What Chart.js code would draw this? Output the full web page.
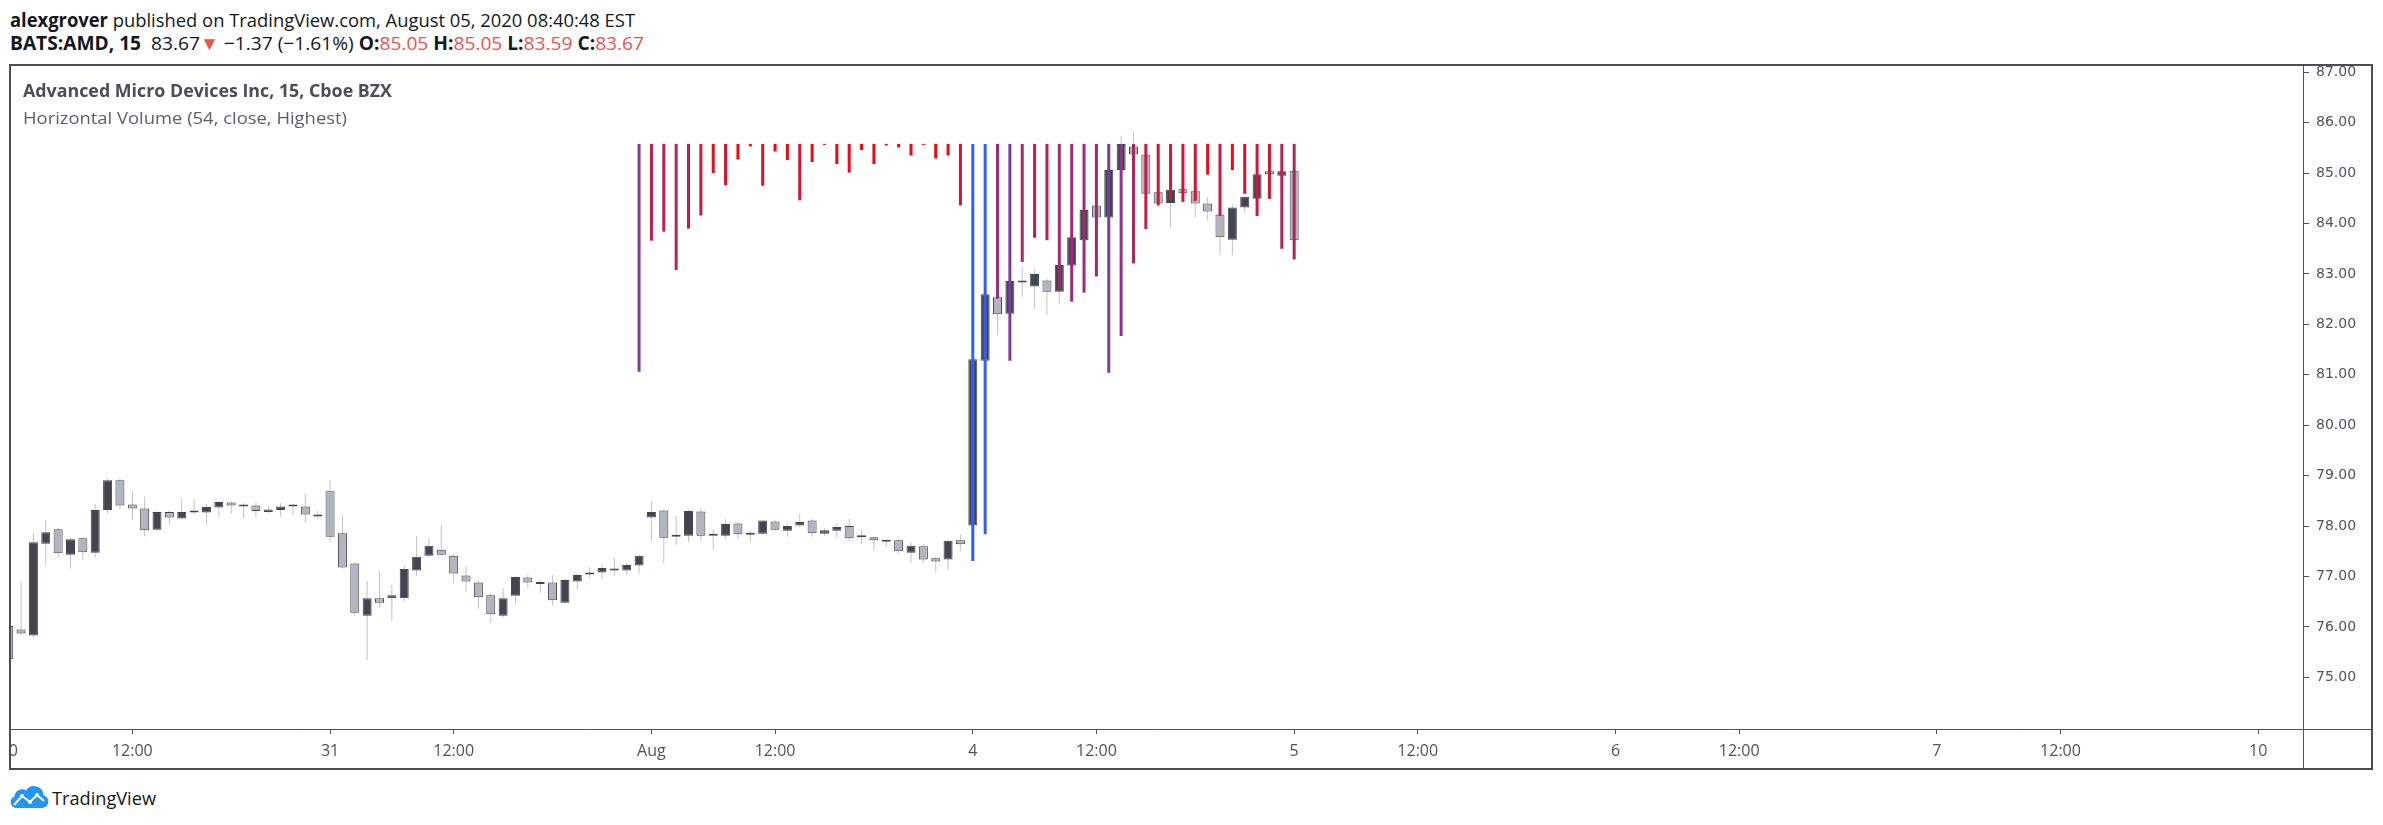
<!DOCTYPE html>
<html>
<head>
<meta charset="utf-8">
<script src="https://cdn.jsdelivr.net/npm/chart.js@4/dist/chart.umd.min.js"></script>
<style>
html, body { margin: 0; padding: 0; background: #fff; width: 2383px; height: 825px; overflow: hidden; position: relative; }
.txt { position: absolute; white-space: nowrap; transform-origin: 0 50%; z-index: 2; }
#head1, #head2 { left: 10px; font-family: "Open Sans", sans-serif; font-size: 19px; line-height: 22px; color: #131722; }
#head1 { top: 9px; }
#head2 { top: 32px; }
.r { color: #ef5350; }
#box { position: absolute; left: 9px; top: 64px; width: 2364px; height: 706px; border: 2px solid #4b4e58; box-sizing: border-box; }
#wrap { position: absolute; left: 11px; top: 66px; width: 2360px; height: 702px; }
#leg1, #leg2 { left: 23px; font-family: "Open Sans", sans-serif; font-size: 17px; line-height: 22px; }
#leg1 { top: 80px; font-weight: bold; color: #4b4d57; }
#leg2 { top: 107px; color: #5d606b; }
#logo { position: absolute; left: 9px; top: 786px; }
#brand { left: 52px; top: 786px; font-family: "Open Sans", sans-serif; font-size: 18px; line-height: 24px; color: #131722; }
</style>
</head>
<body>
<div id="head1" class="txt"><b>alexgrover</b> published on TradingView.com, August 05, 2020 08:40:48 EST</div>
<div id="head2" class="txt"><b>BATS:AMD, 15</b>&nbsp; 83.67<span class="r">▼</span> −1.37 (−1.61%) <b>O:</b><span class="r">85.05</span> <b>H:</b><span class="r">85.05</span> <b>L:</b><span class="r">83.59</span> <b>C:</b><span class="r">83.67</span></div>
<div id="box"></div>
<div id="wrap"><canvas id="chart" width="2360" height="702"></canvas></div>
<div id="leg1" class="txt">Advanced Micro Devices Inc, 15, Cboe BZX</div>
<div id="leg2" class="txt">Horizontal Volume (54, close, Highest)</div>
<svg id="logo" width="40" height="23" viewBox="0 0 40 23">
  <path d="M7 22 H33 a6.5 6.5 0 0 0 1.5 -12.8 A9.5 9.5 0 0 0 17 4.5 a7.5 7.5 0 0 0 -11.5 6 A6 6 0 0 0 7 22 z" fill="#2196f3"/>
  <polyline points="5,19 13,10 21,16 28,9 35,15" fill="none" stroke="#fff" stroke-width="2"/>
  <circle cx="13" cy="10" r="2" fill="#fff"/><circle cx="21" cy="16" r="2" fill="#fff"/><circle cx="28" cy="9" r="2" fill="#fff"/>
</svg>
<div id="brand" class="txt">TradingView</div>
<script>
// 15 min bars, Jul 30 09:30 -> Aug 5 09:30
const open = [76.02,75.95,75.83,77.65,77.94,77.43,77.76,77.47,78.32,78.91,78.43,78.35,77.93,78.28,78.15,78.27,78.27,78.37,78.47,78.39,78.41,78.28,78.32,78.39,78.39,78.23,
  78.69,77.86,77.26,76.22,76.57,76.57,76.57,77.12,77.41,77.53,77.41,77.02,76.88,76.63,76.22,76.62,76.98,76.85,76.88,76.48,76.90,77.04,77.08,77.12,77.12,77.22,
  78.17,78.31,77.79,77.81,78.29,77.81,77.81,78.05,77.83,77.85,78.09,77.91,78.01,78.11,77.85,77.91,78.00,77.78,77.78,77.69,77.72,77.47,77.60,77.36,77.34,77.72,
  78.01,81.28,82.54,82.21,82.87,82.75,82.87,82.65,83.17,83.67,84.36,84.12,85.06,85.53,85.37,84.62,84.41,84.68,84.64,84.40,84.18,83.68,84.32,84.49,85.04,84.95,
  85.05];
const high = [76.10,76.89,77.86,78.12,77.96,77.78,77.78,78.44,78.95,78.95,78.70,78.58,78.30,78.30,78.54,78.54,78.44,78.49,78.49,78.46,78.47,78.41,78.46,78.44,78.64,78.31,
  78.91,78.22,77.28,76.91,77.11,76.83,77.23,77.80,77.76,78.02,77.45,77.21,76.92,76.67,76.77,77.00,77.04,76.94,77.03,76.95,77.05,77.19,77.25,77.37,77.27,77.43,
  78.50,78.33,78.20,78.32,78.36,77.94,78.14,78.08,77.90,78.12,78.12,78.05,78.24,78.14,77.96,78.05,78.14,77.92,77.79,77.73,77.75,77.68,77.65,77.39,77.72,77.84,
  81.35,82.65,82.60,82.90,83.16,83.10,82.91,83.20,83.76,84.30,84.40,85.10,85.74,85.82,85.40,84.65,84.70,84.72,84.68,84.53,84.20,84.38,84.55,85.00,85.07,85.06,
  85.05];
const low = [75.33,75.83,75.77,77.22,77.37,77.16,77.33,77.38,78.25,78.33,78.12,77.80,77.91,78.02,78.13,78.23,78.02,78.18,78.24,78.16,78.18,78.25,78.18,78.22,78.07,78.15,
  77.69,77.16,76.22,75.34,76.38,76.12,76.49,77.01,77.38,77.40,76.86,76.70,76.36,76.08,76.18,76.45,76.76,76.68,76.43,76.46,76.75,76.97,76.95,77.01,77.03,77.06,
  77.71,77.27,77.63,77.69,77.69,77.53,77.75,77.75,77.69,77.83,77.90,77.79,77.98,77.79,77.82,77.76,77.70,77.65,77.51,77.59,77.45,77.27,77.27,77.08,77.13,77.51,
  77.95,81.20,81.79,82.15,82.55,82.29,82.19,82.41,83.10,83.60,84.05,84.05,85.00,85.30,84.55,84.34,83.92,84.55,84.12,84.06,83.38,83.36,84.20,84.45,84.96,84.93,
  83.59];
const close = [75.36,75.87,77.68,77.88,77.46,77.74,77.48,78.32,78.91,78.41,78.35,77.92,78.28,78.17,78.28,78.28,78.38,78.48,78.41,78.41,78.30,78.33,78.39,78.40,78.23,78.19,
  77.79,77.18,76.28,76.57,76.48,76.63,77.15,77.39,77.61,77.43,77.06,76.90,76.59,76.25,76.57,76.99,76.88,76.88,76.53,76.93,77.03,77.07,77.17,77.15,77.23,77.41,
  78.28,77.77,77.82,78.30,77.81,77.84,78.04,77.84,77.86,78.11,77.93,78.00,78.08,77.86,77.92,77.98,77.76,77.79,77.72,77.71,77.50,77.61,77.34,77.30,77.71,77.64,
  81.31,82.60,82.20,82.86,82.83,83.00,82.65,83.18,83.73,84.27,84.12,85.06,85.58,85.37,84.59,84.40,84.67,84.60,84.40,84.24,83.73,84.32,84.53,84.98,84.98,85.04,
  83.67];

// Horizontal Volume (54 bars): each line hangs from the highest close down to this value
const hvolStart = 51;
const hvolEnd = [81.06,83.66,83.84,83.08,83.90,84.16,85.00,84.76,85.27,85.53,84.75,85.43,85.26,84.46,85.22,85.56,85.18,85.01,85.46,85.18,85.55,85.51,85.35,85.56,85.29,85.35,84.36,
  77.31,77.84,82.51,81.28,83.24,83.72,83.67,82.70,82.45,82.63,82.95,81.04,81.77,83.21,83.89,84.36,84.47,84.43,84.45,84.97,84.15,85.06,84.59,84.15,84.49,83.50,83.29];

const priceTicks = [75, 76, 77, 78, 79, 80, 81, 82, 83, 84, 85, 86, 87];
const timeTickIndex = [0, 10, 26, 36, 52, 62, 78, 88, 104, 114, 130, 140, 156, 166, 182];
const timeTickLabel = ["30", "12:00", "31", "12:00", "Aug", "12:00", "4", "12:00", "5", "12:00", "6", "12:00", "7", "12:00", "10"];

const hvolTop = Math.max(...close.slice(hvolStart));
const hvolMax = hvolTop - Math.min(...hvolEnd);

const DARK = "#434651";
const LIGHT = "#b2b5be";
const WICK = "#c3c4ca";
const AXIS = "#50535e";

function hvolColor(v) {
  const t = Math.pow((hvolTop - v) / hvolMax, 0.8);
  const a = [255, 0, 0], b = [41, 98, 255];
  const c = a.map((x, k) => Math.round(x + (b[k] - x) * t));
  return `rgb(${c[0]},${c[1]},${c[2]})`;
}

const wickData = high.map((h, i) => ({ x: i, y: [low[i], h] }));
const bodyData = open.map((o, i) => ({ x: i, y: [o, close[i]] }));
const bodyColors = open.map((o, i) => close[i] >= o ? DARK : LIGHT);
const hvolData = hvolEnd.map((v, k) => ({ x: hvolStart + k, y: [v, hvolTop] }));
const hvolColors = hvolEnd.map(hvolColor);

const frame = {
  id: "frame",
  afterDraw(chart) {
    const { ctx, chartArea: a, width, height } = chart;
    ctx.save();
    ctx.strokeStyle = AXIS;
    ctx.lineWidth = 1;
    ctx.beginPath();
    ctx.moveTo(a.right, Math.round(a.bottom) + 0.5);
    ctx.lineTo(width, Math.round(a.bottom) + 0.5);
    ctx.moveTo(Math.round(a.right) + 0.5, a.bottom);
    ctx.lineTo(Math.round(a.right) + 0.5, height);
    ctx.stroke();
    ctx.restore();
  }
};

new Chart(document.getElementById("chart"), {
  type: "bar",
  data: {
    datasets: [
      { label: "hvol", data: hvolData, backgroundColor: hvolColors, barThickness: 3, grouped: false, inflateAmount: 0, order: 0 },
      { label: "body", data: bodyData, backgroundColor: bodyColors, borderColor: DARK, borderWidth: 1, borderSkipped: false,
        barThickness: 9, minBarLength: 2, grouped: false, inflateAmount: 0, order: 1 },
      { label: "wick", data: wickData, backgroundColor: WICK, barThickness: 1, grouped: false, inflateAmount: 0, order: 2 }
    ]
  },
  options: {
    responsive: false,
    animation: false,
    devicePixelRatio: 1,
    events: [],
    layout: { padding: 0 },
    plugins: { legend: { display: false }, tooltip: { enabled: false } },
    scales: {
      x: {
        type: "linear",
        min: 0.186,
        max: 185.62,
        offset: false,
        afterBuildTicks: s => { s.ticks = timeTickIndex.map(v => ({ value: v })); },
        afterFit: s => { s.height = 39; s.paddingLeft = 0; s.paddingRight = 0; },
        ticks: {
          autoSkip: false, maxRotation: 0, padding: 8, color: AXIS,
          font: { family: "Open Sans", size: 16 },
          callback: v => timeTickLabel[timeTickIndex.indexOf(v)]
        },
        grid: { offset: false, drawOnChartArea: false, drawTicks: true, tickLength: 5, color: AXIS },
        border: { color: AXIS, width: 1 }
      },
      y: {
        type: "linear",
        position: "right",
        min: 73.976,
        max: 87.125,
        afterBuildTicks: s => { s.ticks = priceTicks.map(v => ({ value: v })); },
        afterFit: s => { s.width = 68; s.paddingTop = 0; s.paddingBottom = 0; },
        ticks: {
          padding: 7, color: AXIS,
          font: { family: "DejaVu Sans", size: 14 },
          callback: v => v.toFixed(2)
        },
        grid: { drawOnChartArea: false, drawTicks: true, tickLength: 6, color: AXIS },
        border: { color: AXIS, width: 1 }
      }
    }
  },
  plugins: [frame]
});

// squeeze the html texts to the widths they have in the snapshot
function fit(id, w) {
  const el = document.getElementById(id);
  el.style.transform = "none";
  el.style.transform = `scaleX(${w / el.getBoundingClientRect().width})`;
}
function fitAll() {
  fit("head1", 625);
  fit("head2", 634);
  fit("leg1", 369);
  fit("leg2", 324);
  fit("brand", 104);
}
fitAll();
document.fonts.ready.then(fitAll);
</script>
</body>
</html>
